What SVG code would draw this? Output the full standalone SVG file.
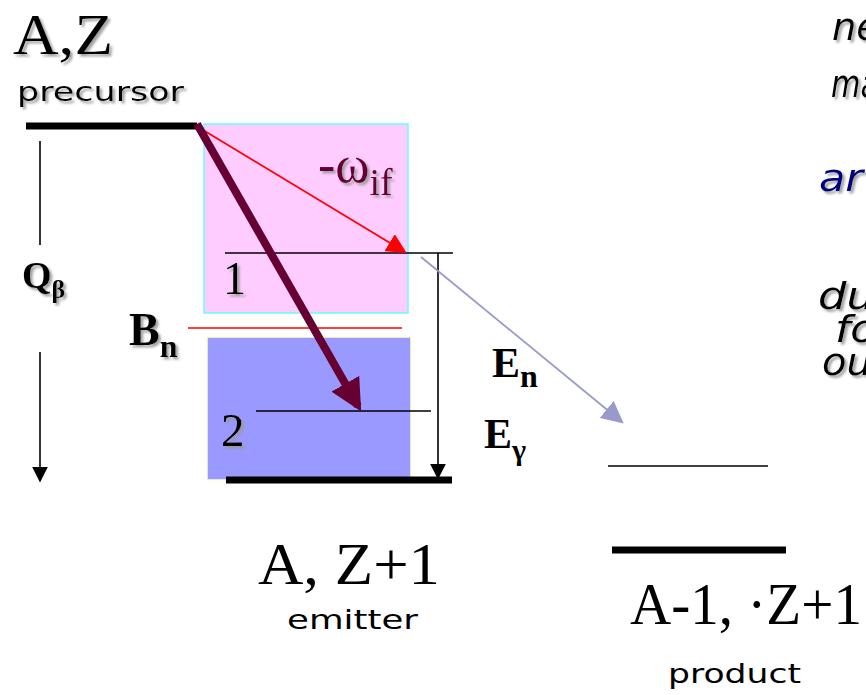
<svg xmlns="http://www.w3.org/2000/svg" width="866" height="695" viewBox="0 0 866 695">
<defs>
<filter id="sh" x="-10%" y="-10%" width="130%" height="130%">
<feDropShadow dx="2.5" dy="2.5" stdDeviation="0.8" flood-color="#999999" flood-opacity="0.9"/>
</filter>
<marker id="ab" viewBox="0 0 10 10" refX="9" refY="5" markerWidth="16" markerHeight="16" markerUnits="userSpaceOnUse" orient="auto"><path d="M0,0 L10,5 L0,10 z" fill="#000"/></marker>
<marker id="ar" viewBox="0 0 10 10" refX="9" refY="5" markerWidth="20" markerHeight="20" markerUnits="userSpaceOnUse" orient="auto"><path d="M0,0 L10,5 L0,10 z" fill="#ff0000"/></marker>
<marker id="am" viewBox="0 0 10 10" refX="8" refY="5" markerWidth="32" markerHeight="32" markerUnits="userSpaceOnUse" orient="auto"><path d="M0,0 L10,5 L0,10 z" fill="#660033"/></marker>
<marker id="ap" viewBox="0 0 10 10" refX="9" refY="5" markerWidth="22" markerHeight="22" markerUnits="userSpaceOnUse" orient="auto"><path d="M0,0 L10,5 L0,10 z" fill="#9999cc"/></marker>
</defs>
<style>
.serif{font-family:'Liberation Serif','Times New Roman',serif;fill:#000}
.bold{font-weight:bold}
.comic{font-family:'DejaVu Sans','Liberation Sans',sans-serif;fill:#000}
.ital{font-family:'DejaVu Sans','Liberation Sans',sans-serif;font-style:italic;fill:#000;font-size:38px}
.sh{filter:url(#sh)}
.thin{stroke:#000;stroke-width:1.6;fill:none}
.thick{stroke:#000;stroke-width:7;fill:none}
</style>

<g id="boxes">
<rect id="box-upper" x="204" y="124" width="204" height="189" fill="#ffccff" stroke="#66ffff" stroke-width="1.5"/>
<rect id="box-lower" x="207" y="337" width="204" height="143" fill="#9999ff" stroke="#ffffcc" stroke-width="1.5"/>
</g>

<g id="levels">
<line id="precursor-level" class="thick" x1="26" y1="126" x2="197" y2="126"/>
<line id="level-1" class="thin" x1="225" y1="253" x2="453" y2="253"/>
<line id="level-2" class="thin" x1="256" y1="411" x2="431" y2="411"/>
<line id="emitter-ground" class="thick" x1="226" y1="480" x2="452" y2="480"/>
<line id="bn-level" x1="188" y1="328" x2="402" y2="328" stroke="#ff0000" stroke-width="1.6"/>
<line id="product-level" class="thin" x1="608" y1="466" x2="768" y2="466"/>
<line id="product-ground" class="thick" x1="612" y1="550" x2="786" y2="550"/>
</g>

<g id="connectors">
<line x1="40" y1="141" x2="40" y2="245" class="thin"/>
<line x1="40" y1="352" x2="40" y2="481" class="thin" marker-end="url(#ab)"/>
<line x1="438" y1="253" x2="438" y2="478" class="thin" marker-end="url(#ab)"/>
<line x1="203" y1="130" x2="405" y2="252" stroke="#ff0000" stroke-width="1.8" marker-end="url(#ar)"/>
<line x1="197" y1="124" x2="358" y2="406" stroke="#660033" stroke-width="8" marker-end="url(#am)"/>
<line x1="421" y1="257" x2="622" y2="422" stroke="#9999cc" stroke-width="1.8" marker-end="url(#ap)"/>
</g>

<g id="labels">
<text class="serif sh" x="13" y="54" font-size="58" textLength="100" lengthAdjust="spacingAndGlyphs">A,Z</text>
<text class="comic sh" x="17" y="101" font-size="27" textLength="167" lengthAdjust="spacingAndGlyphs">precursor</text>
<text class="serif sh" x="223" y="294" font-size="46">1</text>
<text class="serif sh" x="221" y="446" font-size="47">2</text>
<text class="serif sh" x="318" y="182" font-size="52" style="fill:#660033">-ω<tspan font-size="38" dy="13">if</tspan></text>
<text class="serif bold sh" x="22" y="288" font-size="38">Q<tspan font-size="26" dy="10">β</tspan></text>
<text class="serif bold sh" x="129" y="345" font-size="46">B<tspan font-size="32" dy="12">n</tspan></text>
<text class="serif bold" x="492" y="377" font-size="42">E<tspan font-size="32" dy="10">n</tspan></text>
<text class="serif bold" x="484" y="448" font-size="42">E<tspan font-size="30" dy="12">γ</tspan></text>
<text class="serif" x="258" y="584" font-size="60" textLength="182" lengthAdjust="spacingAndGlyphs">A, Z+1</text>
<text class="comic" x="287" y="629" font-size="27" textLength="131" lengthAdjust="spacingAndGlyphs">emitter</text>
<text class="serif" x="630" y="624" font-size="59" textLength="232" lengthAdjust="spacingAndGlyphs">A-1, ·Z+1</text>
<text class="comic" x="668" y="683" font-size="27" textLength="133" lengthAdjust="spacingAndGlyphs">product</text>
</g>

<g id="side-text">
<text class="ital sh" x="832" y="40" textLength="48" lengthAdjust="spacingAndGlyphs">ne</text>
<text class="ital sh" x="831" y="97" textLength="48" lengthAdjust="spacingAndGlyphs">ma</text>
<text class="ital sh" x="819" y="191" textLength="44" lengthAdjust="spacingAndGlyphs" style="fill:#000080">ar</text>
<text class="ital sh" x="818" y="309" textLength="57" lengthAdjust="spacingAndGlyphs">du</text>
<text class="ital sh" x="835" y="342" textLength="42" lengthAdjust="spacingAndGlyphs">fo</text>
<text class="ital sh" x="822" y="375" textLength="50" lengthAdjust="spacingAndGlyphs">ou</text>
</g>
</svg>
